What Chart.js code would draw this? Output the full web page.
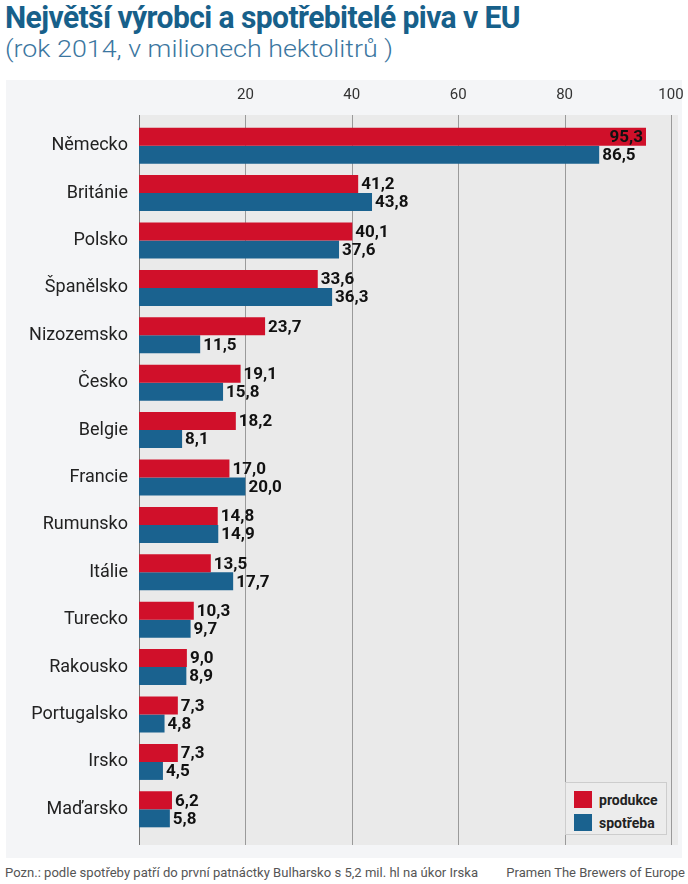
<!DOCTYPE html>
<html>
<head>
<meta charset="utf-8">
<script src="https://cdn.jsdelivr.net/npm/chart.js@4/dist/chart.umd.min.js"></script>
<style>
  html { overflow:hidden; }
  body { margin:0; background:#fff; width:688px; height:884px; position:relative; font-family:Roboto, "Open Sans", sans-serif; }
  .title { position:absolute; left:5px; top:-1px; font-size:31px; font-weight:bold; color:#17608a; letter-spacing:-0.6px; white-space:nowrap; transform-origin:left top; }
  .subtitle { position:absolute; left:5px; top:35px; font-size:24px; font-weight:300; color:#3b76a0; white-space:nowrap; transform-origin:left top; }
  .box { position:absolute; left:6px; top:80px; width:676px; height:778px; background:#f4f5f7; }
  #chart { position:absolute; left:6px; top:80px; }
  .legend { position:absolute; left:565px; top:782px; width:102px; height:53px; border:1px solid #cdcdcd; background:#ececec; box-sizing:border-box; }
  .legend div { position:absolute; left:8px; height:18px; font-size:14px; font-weight:bold; color:#222; line-height:18px; padding-left:25px; }
  .legend span { position:absolute; left:0; top:0; width:18px; height:17px; }
  .note { position:absolute; left:5px; top:865px; font-size:13px; color:#555; white-space:nowrap; transform-origin:left top; }
  .source { position:absolute; right:3px; top:865px; font-size:13px; color:#555; white-space:nowrap; }
</style>
</head>
<body>
<div class="title" id="title">Největší výrobci a spotřebitelé piva v EU</div>
<div class="subtitle" id="subtitle">(rok 2014, v milionech hektolitrů )</div>
<div class="box"></div>
<canvas id="chart" width="682" height="778"></canvas>
<div class="legend" id="legend"></div>
<div class="note" id="note">Pozn.: podle spotřeby patří do první patnáctky Bulharsko s 5,2 mil. hl na úkor Irska</div>
<div class="source">Pramen The Brewers of Europe</div>

<script>
// Data
const countries = ['Německo', 'Británie', 'Polsko', 'Španělsko', 'Nizozemsko', 'Česko', 'Belgie', 'Francie',
                   'Rumunsko', 'Itálie', 'Turecko', 'Rakousko', 'Portugalsko', 'Irsko', 'Maďarsko'];
const produkce = [95.3, 41.2, 40.1, 33.6, 23.7, 19.1, 18.2, 17.0, 14.8, 13.5, 10.3, 9.0, 7.3, 7.3, 6.2];
const spotreba = [86.5, 43.8, 37.6, 36.3, 11.5, 15.8, 8.1, 20.0, 14.9, 17.7, 9.7, 8.9, 4.8, 4.5, 5.8];
const seriesNames = ['produkce', 'spotřeba'];
const xTicks = [20, 40, 60, 80, 100];

const RED = '#d0102a';
const BLUE = '#1a628f';

// squeeze text to the width it has in the original
function fitWidth(id, target) {
    const el = document.getElementById(id);
    const w = el.getBoundingClientRect().width;
    el.style.transform = `scaleX(${target / w})`;
}
fitWidth('title', 515);
fitWidth('subtitle', 388);
fitWidth('note', 473);

// Legend
const legend = document.getElementById('legend');
[RED, BLUE].forEach((c, i) => {
    const d = document.createElement('div');
    d.style.top = (8 + i * 23) + 'px';
    d.innerHTML = `<span style="background:${c}"></span>${seriesNames[i]}`;
    legend.appendChild(d);
});

const fmt = v => v.toFixed(1).replace('.', ',');

const decor = {
    id: 'decor',
    beforeDraw(chart) {
        const { ctx, chartArea: a } = chart;
        ctx.save();
        ctx.fillStyle = '#eaeaea';
        ctx.fillRect(a.left, 35, a.right - a.left + 7, 730);
        ctx.restore();
    },
    beforeDatasetsDraw(chart) {
        const { ctx, scales: { x } } = chart;
        ctx.save();
        ctx.strokeStyle = '#9a9a9a';
        ctx.lineWidth = 1;
        xTicks.forEach(t => {
            const px = Math.round(x.getPixelForValue(t)) + 0.5;
            ctx.beginPath(); ctx.moveTo(px, 35); ctx.lineTo(px, 765); ctx.stroke();
        });
        ctx.strokeStyle = '#777';
        const x0 = Math.round(x.getPixelForValue(0)) + 0.5;
        ctx.beginPath(); ctx.moveTo(x0, 35); ctx.lineTo(x0, 765); ctx.stroke();
        ctx.restore();
    },
    afterDatasetsDraw(chart) {
        const { ctx, chartArea: a } = chart;
        ctx.save();
        ctx.font = 'bold 17px Roboto, sans-serif';
        ctx.fillStyle = '#111';
        ctx.textBaseline = 'middle';
        chart.data.datasets.forEach((ds, i) => {
            chart.getDatasetMeta(i).data.forEach((bar, j) => {
                const txt = fmt(ds.data[j]);
                const w = ctx.measureText(txt).width;
                if (bar.x + 3 + w > a.right + 4) {
                    ctx.textAlign = 'right';
                    ctx.fillText(txt, bar.x - 3, bar.y + 1);
                } else {
                    ctx.textAlign = 'left';
                    ctx.fillText(txt, bar.x + 3, bar.y + 1);
                }
            });
        });
        ctx.restore();
    }
};

new Chart(document.getElementById('chart'), {
    type: 'bar',
    data: {
        labels: countries,
        datasets: [
            { label: seriesNames[0], data: produkce, backgroundColor: RED },
            { label: seriesNames[1], data: spotreba, backgroundColor: BLUE }
        ]
    },
    options: {
        indexAxis: 'y',
        responsive: false,
        animation: false,
        categoryPercentage: 0.76,
        barPercentage: 1,
        layout: { padding: { left: 0, right: 17, top: 0, bottom: 25 } },
        plugins: { legend: { display: false }, tooltip: { enabled: false } },
        scales: {
            x: {
                position: 'top',
                min: 0, max: 100,
                afterFit: s => { s.height = 42; s.paddingLeft = 0; s.paddingRight = 0; },
                afterBuildTicks: s => { s.ticks = xTicks.map(v => ({ value: v })); },
                grid: { display: false, drawTicks: false },
                border: { display: false },
                ticks: { padding: 18, color: '#333', font: { family: 'Roboto', size: 15 } }
            },
            y: {
                afterFit: s => { s.width = 133; s.paddingTop = 0; s.paddingBottom = 0; },
                grid: { display: false, drawTicks: false },
                border: { display: false },
                ticks: { padding: 11, color: '#222', font: { family: 'Roboto', size: 18 } }
            }
        }
    },
    plugins: [decor]
});
</script>
</body>
</html>
